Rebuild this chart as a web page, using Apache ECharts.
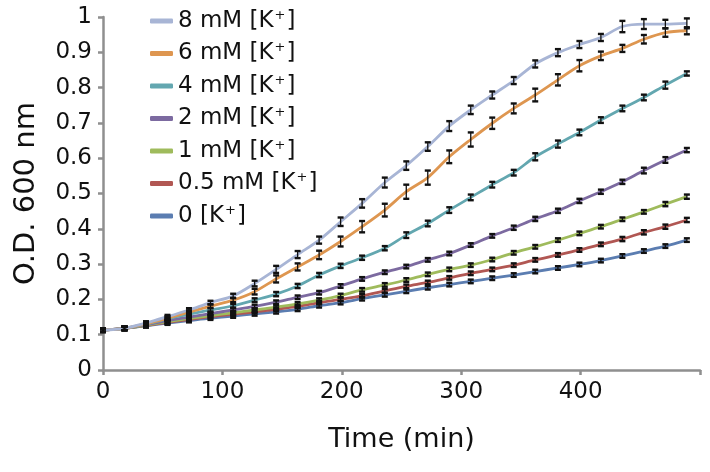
<!DOCTYPE html>
<html>
<head>
<meta charset="utf-8">
<script src="https://cdn.jsdelivr.net/npm/echarts@6/dist/echarts.min.js"></script>
<style>html,body{margin:0;padding:0;background:#fff;}#c{width:710px;height:472px;}</style>
</head>
<body>
<div id="c"></div>
<script>
// Time points (min)
const times = [0, 18, 36, 54, 72, 90, 109, 127, 145, 163, 181, 199, 217, 236, 254, 272, 290, 308, 326, 344, 362, 381, 399, 417, 435, 453, 471, 489];

// Series names (legend order)
const seriesNames = ['8 mM [K+]', '6 mM [K+]', '4 mM [K+]', '2 mM [K+]', '1 mM [K+]', '0.5 mM [K+]', '0 [K+]'];

// O.D. 600 values
const od8 = [0.113, 0.118, 0.133, 0.151, 0.170, 0.191, 0.210, 0.245, 0.285, 0.327, 0.368, 0.420, 0.472, 0.531, 0.579, 0.633, 0.691, 0.737, 0.779, 0.820, 0.867, 0.899, 0.922, 0.942, 0.973, 0.980, 0.980, 0.982];
const od6 = [0.113, 0.118, 0.131, 0.147, 0.164, 0.181, 0.198, 0.222, 0.258, 0.292, 0.326, 0.364, 0.406, 0.453, 0.505, 0.545, 0.604, 0.653, 0.699, 0.741, 0.779, 0.822, 0.862, 0.890, 0.911, 0.937, 0.956, 0.961];
const od4 = [0.113, 0.118, 0.130, 0.145, 0.158, 0.170, 0.182, 0.198, 0.215, 0.238, 0.269, 0.295, 0.318, 0.345, 0.382, 0.415, 0.453, 0.489, 0.525, 0.559, 0.604, 0.640, 0.673, 0.708, 0.741, 0.772, 0.807, 0.840];
const od2 = [0.113, 0.118, 0.128, 0.140, 0.150, 0.160, 0.170, 0.180, 0.192, 0.206, 0.219, 0.238, 0.258, 0.277, 0.293, 0.312, 0.330, 0.354, 0.380, 0.403, 0.428, 0.451, 0.479, 0.505, 0.533, 0.565, 0.595, 0.623];
const od1 = [0.113, 0.118, 0.127, 0.137, 0.146, 0.154, 0.162, 0.170, 0.178, 0.187, 0.198, 0.211, 0.227, 0.241, 0.255, 0.271, 0.285, 0.297, 0.313, 0.332, 0.349, 0.368, 0.387, 0.406, 0.427, 0.448, 0.470, 0.491];
const od05 = [0.113, 0.118, 0.126, 0.135, 0.143, 0.151, 0.158, 0.165, 0.172, 0.180, 0.191, 0.200, 0.210, 0.224, 0.237, 0.248, 0.261, 0.274, 0.285, 0.297, 0.312, 0.326, 0.340, 0.356, 0.371, 0.390, 0.406, 0.425];
const od0 = [0.113, 0.118, 0.125, 0.133, 0.140, 0.147, 0.153, 0.159, 0.165, 0.172, 0.182, 0.191, 0.202, 0.213, 0.223, 0.233, 0.242, 0.251, 0.260, 0.269, 0.279, 0.289, 0.299, 0.310, 0.323, 0.337, 0.351, 0.368];

// Error (half-range) estimates
const err8 = [0.002, 0.002, 0.003, 0.003, 0.004, 0.005, 0.006, 0.008, 0.010, 0.010, 0.010, 0.012, 0.012, 0.014, 0.012, 0.012, 0.014, 0.012, 0.010, 0.010, 0.010, 0.010, 0.010, 0.010, 0.016, 0.014, 0.012, 0.014];
const err6 = [0.002, 0.002, 0.003, 0.003, 0.004, 0.005, 0.006, 0.008, 0.010, 0.010, 0.012, 0.014, 0.016, 0.018, 0.020, 0.020, 0.018, 0.020, 0.016, 0.014, 0.018, 0.016, 0.016, 0.012, 0.010, 0.012, 0.012, 0.010];
const err4 = [0.002, 0.002, 0.003, 0.003, 0.004, 0.004, 0.005, 0.005, 0.006, 0.006, 0.006, 0.006, 0.006, 0.006, 0.008, 0.008, 0.008, 0.008, 0.008, 0.008, 0.010, 0.010, 0.008, 0.008, 0.008, 0.008, 0.010, 0.006];
const err2 = [0.002, 0.002, 0.003, 0.003, 0.003, 0.004, 0.004, 0.004, 0.004, 0.004, 0.005, 0.005, 0.005, 0.005, 0.005, 0.005, 0.005, 0.005, 0.005, 0.006, 0.006, 0.006, 0.006, 0.006, 0.006, 0.008, 0.008, 0.006];
const err1 = [0.002, 0.002, 0.003, 0.003, 0.003, 0.003, 0.003, 0.003, 0.004, 0.004, 0.004, 0.004, 0.004, 0.004, 0.004, 0.004, 0.004, 0.004, 0.004, 0.005, 0.005, 0.005, 0.005, 0.005, 0.005, 0.005, 0.006, 0.006];
const err05 = [0.002, 0.002, 0.003, 0.003, 0.003, 0.003, 0.003, 0.003, 0.004, 0.004, 0.004, 0.004, 0.004, 0.005, 0.005, 0.005, 0.005, 0.005, 0.005, 0.005, 0.005, 0.005, 0.005, 0.005, 0.006, 0.006, 0.006, 0.006];
const err0 = [0.002, 0.002, 0.003, 0.003, 0.003, 0.003, 0.003, 0.003, 0.003, 0.003, 0.003, 0.003, 0.003, 0.003, 0.003, 0.003, 0.003, 0.003, 0.003, 0.003, 0.003, 0.003, 0.003, 0.004, 0.004, 0.004, 0.004, 0.004];

// Axis ticks
const xTicks = [0, 100, 200, 300, 400, 500];
const yTicks = [0, 0.1, 0.2, 0.3, 0.4, 0.5, 0.6, 0.7, 0.8, 0.9, 1];

const colors = ['#a8b5d5', '#de9650', '#63a7b0', '#7c6aa0', '#9fbb5c', '#b15753', '#5b7db1'];
const values = [od8, od6, od4, od2, od1, od05, od0];
const errors = [err8, err6, err4, err2, err1, err05, err0];

const FONT = 'DejaVu Sans';

const lineSeries = [];
for (let s = values.length - 1; s >= 0; s--) {
  lineSeries.push({
    name: seriesNames[s],
    type: 'line',
    smooth: 0.3,
    symbol: 'none',
    color: colors[s],
    lineStyle: { width: 2.8, color: colors[s] },
    data: times.map((t, i) => [t, values[s][i]]),
    z: 2
  });
}

const errData = [];
values.forEach((vals, s) => {
  vals.forEach((v, i) => errData.push([times[i], v, errors[s][i]]));
});

const errSeries = {
  type: 'custom',
  name: 'err',
  z: 5,
  silent: true,
  data: errData,
  renderItem: function (params, api) {
    const x = api.value(0), y = api.value(1), e = api.value(2);
    const c = api.coord([x, y]);
    let top = api.coord([x, y + e])[1];
    let bot = api.coord([x, y - e])[1];
    if (c[1] - top < 1.8) { top = c[1] - 1.8; bot = c[1] + 1.8; }
    const w = 3;
    const st = { stroke: '#111', lineWidth: 1.3 };
    const cs = { stroke: '#111', lineWidth: 2.4 };
    return {
      type: 'group',
      children: [
        { type: 'line', shape: { x1: c[0], y1: top, x2: c[0], y2: bot }, style: st },
        { type: 'line', shape: { x1: c[0] - w, y1: top, x2: c[0] + w, y2: top }, style: cs },
        { type: 'line', shape: { x1: c[0] - w, y1: bot, x2: c[0] + w, y2: bot }, style: cs }
      ]
    };
  }
};

const chart = echarts.init(document.getElementById('c'), null, { renderer: 'canvas' });
chart.setOption({
  animation: false,
  backgroundColor: '#ffffff',
  grid: { left: 103, right: 10, top: 17, bottom: 102, containLabel: false },
  legend: {
    orient: 'vertical',
    left: 145,
    top: 4,
    itemWidth: 23,
    itemHeight: 5,
    itemGap: 8.5,
    icon: 'roundRect',
    data: seriesNames.map((n, i) => ({ name: n, itemStyle: { color: colors[i] } })),
    formatter: function (name) {
      return '{t|' + name.replace('[K+]', '[K') + '}{s|+}{t|]}';
    },
    textStyle: {
      fontFamily: FONT,
      fontSize: 23,
      color: '#111',
      lineHeight: 24,
      padding: [0, 0, 0, 0],
      rich: {
        t: { fontFamily: FONT, fontSize: 23, color: '#111', lineHeight: 24 },
        s: { fontFamily: FONT, fontSize: 13, color: '#111', lineHeight: 24, verticalAlign: 'top', padding: [0, 1, 8, 1] }
      }
    }
  },
  xAxis: {
    type: 'value',
    min: xTicks[0],
    max: xTicks[xTicks.length - 1],
    interval: 100,
    name: 'Time (min)',
    nameLocation: 'middle',
    nameGap: 56,
    nameTextStyle: { fontFamily: FONT, fontSize: 27, color: '#111' },
    axisLine: { show: true, onZero: false, lineStyle: { color: '#8f8f8f', width: 2.5 } },
    axisTick: { show: true, length: 5, lineStyle: { color: '#8f8f8f', width: 2.5 } },
    axisLabel: {
      fontFamily: FONT, fontSize: 23, color: '#111', margin: 11,
      formatter: function (v) { return v === 500 ? '' : String(v); }
    },
    splitLine: { show: false }
  },
  yAxis: {
    type: 'value',
    min: yTicks[0],
    max: yTicks[yTicks.length - 1],
    interval: 0.1,
    name: 'O.D. 600 nm',
    nameLocation: 'middle',
    nameGap: 62,
    nameRotate: 90,
    nameTextStyle: { fontFamily: FONT, fontSize: 29, color: '#111' },
    axisLine: { show: true, onZero: false, lineStyle: { color: '#8f8f8f', width: 2.5 } },
    axisTick: { show: true, length: 5, lineStyle: { color: '#8f8f8f', width: 2.5 } },
    axisLabel: {
      fontFamily: FONT, fontSize: 23, color: '#111', margin: 11,
      formatter: function (v) { return String(Math.round(v * 10) / 10); }
    },
    splitLine: { show: false }
  },
  series: lineSeries.concat([errSeries])
});
</script>
</body>
</html>
